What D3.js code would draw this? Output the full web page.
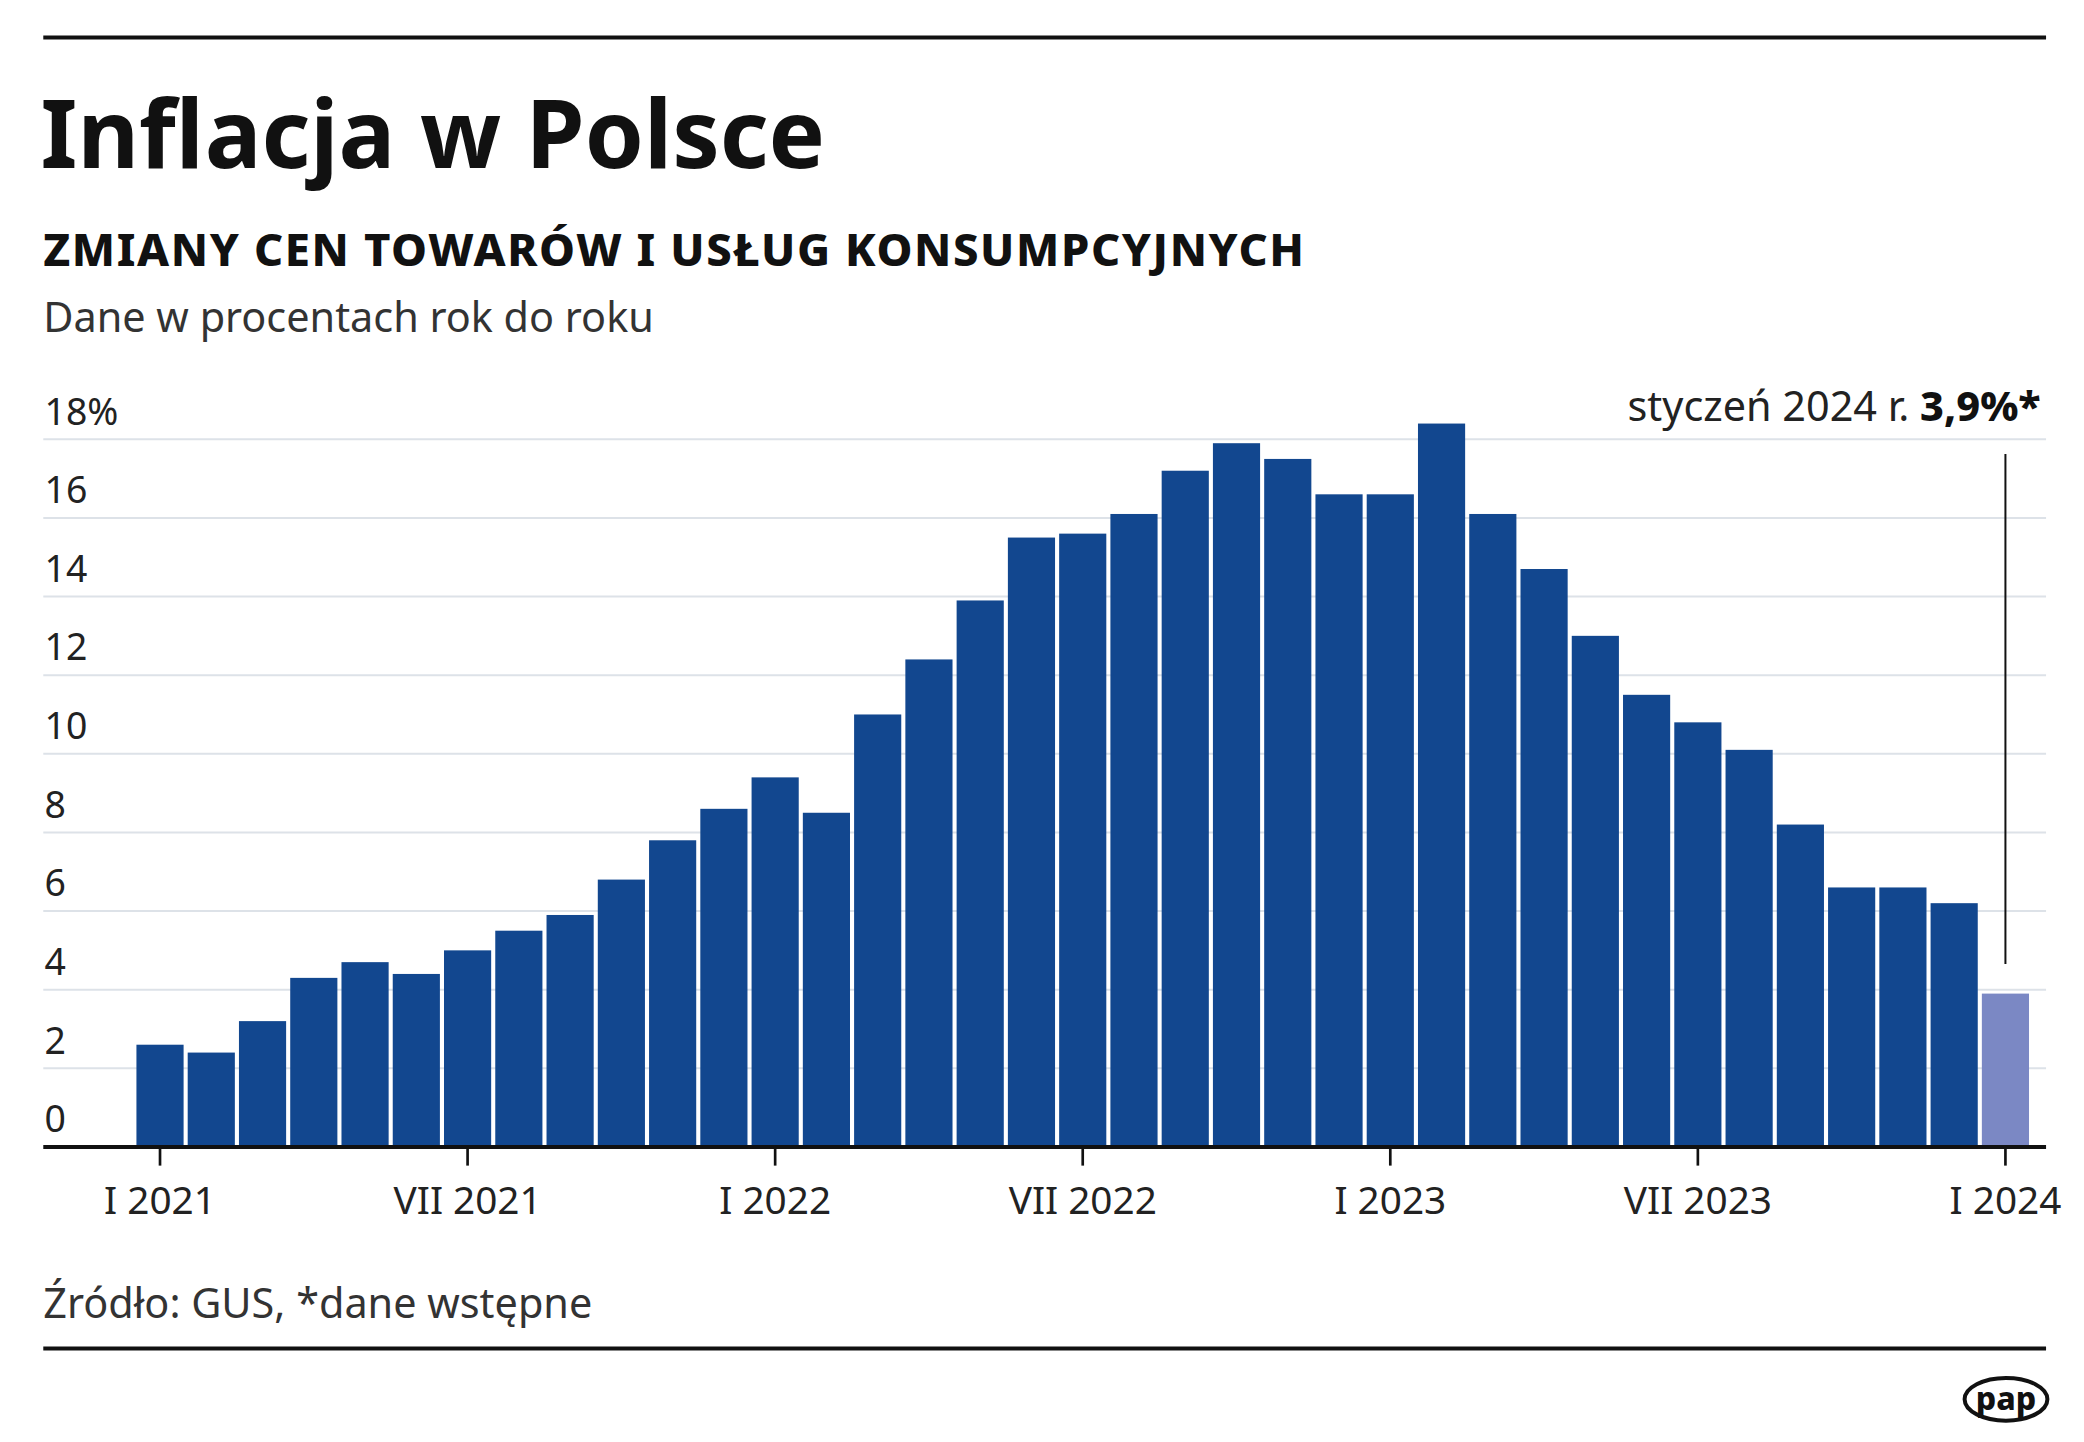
<!DOCTYPE html>
<html><head><meta charset="utf-8">
<script src="https://cdn.jsdelivr.net/npm/d3@7"></script>
<style>body{margin:0;background:#fff}svg{display:block}text{font-family:"Source Sans Pro","Noto Sans",sans-serif}</style>
</head><body>
<script>
const months = ["I","II","III","IV","V","VI","VII","VIII","IX","X","XI","XII"];
const years = [2021,2022,2023,2024];
const values = [2.6,2.4,3.2,4.3,4.7,4.4,5.0,5.5,5.9,6.8,7.8,8.6,
                9.4,8.5,11.0,12.4,13.9,15.5,15.6,16.1,17.2,17.9,17.5,16.6,
                16.6,18.4,16.1,14.7,13.0,11.5,10.8,10.1,8.2,6.6,6.6,6.2,
                3.9];
const yTicks = [0,2,4,6,8,10,12,14,16,18];
const xTickLabels = ["I 2021","VII 2021","I 2022","VII 2022","I 2023","VII 2023","I 2024"];
const dates = values.map((v,i)=>months[i%12]+" "+years[Math.floor(i/12)]);

const W=1560,H=1080;
const svg=d3.select("body").append("svg").attr("width",2084).attr("height",1442).attr("viewBox",`0 0 ${W} ${H}`);
const x=d3.scaleBand().domain(dates).range([101,1520]).paddingInner(0.08).paddingOuter(0.02);
const y=d3.scaleLinear().domain([0,18]).range([859,329]);

svg.append("line").attr("x1",32).attr("x2",1532).attr("y1",28).attr("y2",28).attr("stroke","#111").attr("stroke-width",3);
svg.append("line").attr("x1",32).attr("x2",1532).attr("y1",1010).attr("y2",1010).attr("stroke","#111").attr("stroke-width",3);
svg.append("text").attr("x",30).attr("y",126).attr("font-size",71).attr("font-weight",700).attr("fill","#111").text("Inflacja w Polsce");
svg.append("text").attr("x",32).attr("y",199).attr("font-size",34).attr("font-weight",800).attr("letter-spacing",1.2).attr("fill","#111").text("ZMIANY CEN TOWARÓW I USŁUG KONSUMPCYJNYCH");
svg.append("text").attr("x",32).attr("y",249).attr("font-size",31).attr("fill","#333").text("Dane w procentach rok do roku");

const g=svg.append("g");
g.selectAll("line.g").data(yTicks.filter(d=>d>0)).join("line").attr("x1",32).attr("x2",1532)
 .attr("y1",d=>y(d)).attr("y2",d=>y(d)).attr("stroke","#dde2e8").attr("stroke-width",1.5);
g.selectAll("text.y").data(yTicks).join("text").attr("x",33).attr("y",d=>y(d)-11).attr("font-size",28).attr("fill","#222")
 .text(d=>d===18?"18%":d);

svg.selectAll("rect").data(values).join("rect")
 .attr("x",(d,i)=>x(dates[i])).attr("width",x.bandwidth())
 .attr("y",d=>y(d)).attr("height",d=>y(0)-y(d))
 .attr("fill",(d,i)=>i===values.length-1?"#7b88c4":"#12478f");

const ax=svg.append("g").attr("transform",`translate(0,${y(0)})`)
 .call(d3.axisBottom(x).tickValues(xTickLabels).tickSize(14).tickSizeOuter(0));
ax.select(".domain").remove();
ax.selectAll(".tick line").attr("stroke","#111").attr("stroke-width",2);
ax.selectAll(".tick text").attr("font-size",29).attr("fill","#222").attr("dy",33).style("font-family",'"Source Sans Pro","Noto Sans",sans-serif');
svg.append("line").attr("x1",32).attr("x2",1532).attr("y1",y(0)).attr("y2",y(0)).attr("stroke","#111").attr("stroke-width",3);

const lx=x(dates[dates.length-1])+x.bandwidth()/2;
svg.append("line").attr("x1",lx).attr("x2",lx).attr("y1",340).attr("y2",722).attr("stroke","#111").attr("stroke-width",1.5);
const t=svg.append("text").attr("x",1528).attr("y",315).attr("text-anchor","end").attr("font-size",31).attr("fill","#222");
t.append("tspan").text("styczeń 2024 r. ");
t.append("tspan").attr("font-weight",800).attr("fill","#111").text("3,9%*");

svg.append("text").attr("x",32).attr("y",987).attr("font-size",31).attr("fill","#333").text("Źródło: GUS, *dane wstępne");
const lg=svg.append("g").attr("transform","translate(1502,1048)");
lg.append("ellipse").attr("rx",31).attr("ry",16).attr("fill","#fff").attr("stroke","#111").attr("stroke-width",3);
lg.append("text").attr("text-anchor","middle").attr("y",8).attr("font-size",24).attr("font-weight",800).attr("fill","#111").text("pap");
</script></body></html>
